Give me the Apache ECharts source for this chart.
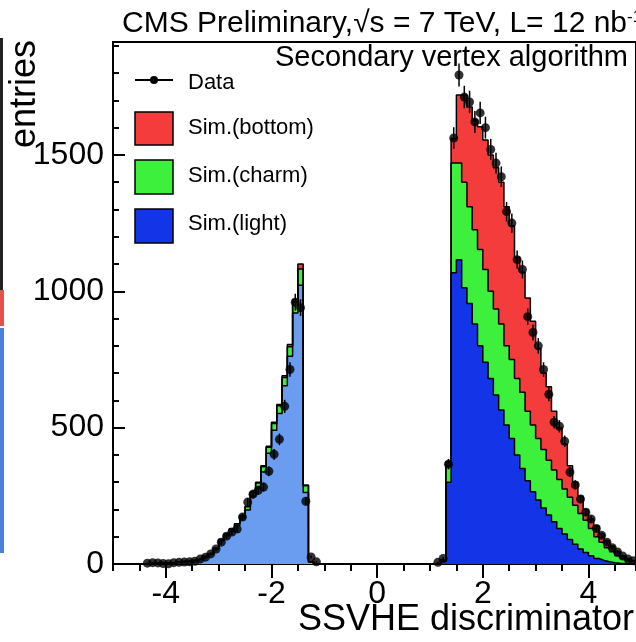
<!DOCTYPE html>
<html>
<head>
<meta charset="utf-8">
<script src="https://cdn.jsdelivr.net/npm/echarts@6/dist/echarts.min.js"></script>
<style>html,body{margin:0;padding:0;background:#fff}#c{width:636px;height:642px}</style>
</head>
<body>
<div id="c"></div>
<script>
// ---- data ----
const BIN_WIDTH = 0.1;
// negative-discriminator side: bins from -4.4 to -1.3 (left edges)
const negStart = -4.4;
const negLight  = [2,3,4,5,4,6,8,10,12,15,20,27,36,55,85,104,121,140,167,198,248,279,337,406,490,552,654,762,920,1022,262,8];
const negCharm  = [0,0,0,0,0,0,0,0,0,0,0,1,2,3,5,6,7,8,10,12,15,18,20,22,25,28,30,35,40,60,25,0];
const negBottom = [0,0,0,0,0,0,0,0,0,0,0,0,0,0,0,0,0,0,1,2,2,3,3,4,5,5,6,8,10,18,3,0];
// positive side: bins from 1.2 to 4.9 (left edges)
const posStart = 1.2;
const posLight  = [10,300,1068,1116,1013,955,880,800,740,680,620,565,510,460,400,350,305,265,235,205,180,155,130,110,90,72,55,42,30,20,13,8,5,3,2,1,1,0];
const posCharm  = [2,60,402,354,387,355,346,353,340,320,315,315,290,290,280,280,255,245,225,215,200,190,180,165,155,143,130,118,100,80,67,52,40,27,18,11,5,3];
const posBottom = [3,15,90,250,320,366,402,450,475,500,518,520,510,490,445,440,415,380,330,280,270,215,190,165,115,85,64,40,35,39,30,25,20,16,10,8,6,3];
// data counts
const dataNegStart = -4.4;
const dataNeg = [3,5,4,2,1,5,6,7,8,10,18,25,37,55,80,102,117,128,172,227,256,270,282,340,402,457,578,713,960,940,230,26,8];
const dataPosStart = 1.1;
const dataPos = [6,20,366,1562,1793,1712,1694,1621,1654,1600,1520,1470,1420,1292,1250,1116,1080,907,849,800,713,622,520,505,450,337,290,238,190,165,130,105,80,60,44,29,18,12,6];
// axis ticks / labels
const xTickLabels = [-4,-2,0,2,4];
const yTickStep = 500;
const legendNames = ['Data','Sim.(bottom)','Sim.(charm)','Sim.(light)'];

// ---- helpers ----
const FONT = 'Liberation Sans, Arial, Helvetica, sans-serif';
const COL_RED = '#f43c3c', COL_GREEN = '#3cf03c', COL_BLUE = '#1434e8', COL_LBLUE = '#6a9cf0';
function edge(start, i){ return Math.round((start + i*BIN_WIDTH)*100)/100; }
function sumArr(){ const arrs=[...arguments]; return arrs[0].map((_,i)=>arrs.reduce((s,a)=>s+a[i],0)); }
function stepPts(start, vals){
  const pts=[[edge(start,0),0]];
  vals.forEach((v,i)=>pts.push([edge(start,i),v]));
  pts.push([edge(start,vals.length),0]);
  return pts;
}
function stepSeries(name,start,vals,color){
  return {name, type:'line', step:'end', data:stepPts(start,vals), symbol:'none', silent:true,
    lineStyle:{color:'#000',width:1.5}, areaStyle:{color,opacity:1}, xAxisIndex:0, yAxisIndex:0, z:2};
}
function dataPts(start, vals){
  const out=[];
  vals.forEach((v,i)=>{ if(v>0) out.push([Math.round((start+(i+0.5)*BIN_WIDTH)*100)/100, v, Math.sqrt(v)]); });
  return out;
}
const allData = dataPts(dataNegStart,dataNeg).concat(dataPts(dataPosStart,dataPos));

const series = [
  stepSeries('negTotal',negStart,sumArr(negLight,negCharm,negBottom),COL_RED),
  stepSeries('negLC',negStart,sumArr(negLight,negCharm),COL_GREEN),
  stepSeries('negL',negStart,negLight,COL_LBLUE),
  stepSeries('posTotal',posStart,sumArr(posLight,posCharm,posBottom),COL_RED),
  stepSeries('posLC',posStart,sumArr(posLight,posCharm),COL_GREEN),
  stepSeries('posL',posStart,posLight,COL_BLUE),
  {type:'custom', data:allData, z:4, silent:true, xAxisIndex:0, yAxisIndex:0,
    renderItem:function(params,api){
      const x=api.value(0), v=api.value(1), e=api.value(2);
      const p1=api.coord([x,v-e]), p2=api.coord([x,v+e]);
      return {type:'line', shape:{x1:p1[0],y1:p1[1],x2:p2[0],y2:p2[1]}, style:{stroke:'#000',lineWidth:1.5}};
    }},
  {type:'scatter', data:allData.map(d=>[d[0],d[1]]), symbol:'circle', symbolSize:9, itemStyle:{color:'#000'}, z:5, silent:true, xAxisIndex:0, yAxisIndex:0}
];

const chart = echarts.init(document.getElementById('c'), null, {renderer:'canvas'});
const option = {
  animation:false,
  backgroundColor:'#fff',
  grid:{left:113,right:0,top:42,bottom:78,show:true,borderColor:'#000',borderWidth:2,backgroundColor:'transparent'},
  xAxis:[
    {type:'value',min:-5,max:4.9,interval:0.5,position:'bottom',
      axisLine:{show:true,onZero:false,lineStyle:{color:'#000',width:2}},
      axisTick:{show:true,inside:false,length:7,lineStyle:{color:'#000',width:2}},
      axisLabel:{show:false},splitLine:{show:false}},
    {type:'value',min:-5,max:4.9,position:'bottom',
      axisLine:{show:false,onZero:false},
      axisTick:{show:true,inside:false,length:14,customValues:xTickLabels,lineStyle:{color:'#000',width:2}},
      axisLabel:{show:true,customValues:xTickLabels,fontSize:32,color:'#000',margin:14,fontFamily:FONT,formatter:v=>String(v)},
      splitLine:{show:false}}
  ],
  yAxis:[
    {type:'value',min:0,max:1914,interval:yTickStep,position:'left',
      axisLine:{show:true,onZero:false,lineStyle:{color:'#000',width:2}},
      axisTick:{show:true,inside:true,length:12,lineStyle:{color:'#000',width:2}},
      axisLabel:{show:true,fontSize:32,color:'#000',margin:9,fontFamily:FONT,showMaxLabel:false,formatter:v=>String(v)},
      splitLine:{show:false}},
    {type:'value',min:0,max:1914,interval:100,position:'left',
      axisLine:{show:false,onZero:false},
      axisTick:{show:true,inside:true,length:6,lineStyle:{color:'#000',width:2}},
      axisLabel:{show:false},splitLine:{show:false}}
  ],
  series:series,
  graphic:[
    // edge of the neighbouring panel cut into the picture on the far left
    {type:'rect',shape:{x:0,y:38,width:3,height:252},style:{fill:'#222'}},
    {type:'rect',shape:{x:0,y:290,width:4,height:36},style:{fill:'#e8504a'}},
    {type:'rect',shape:{x:0,y:328,width:4,height:225},style:{fill:'#4a7fe0'}},
    {type:'text',x:122,y:24,style:{text:'{a|CMS Preliminary,√s = 7 TeV, L= 12 nb}{b|-1}',
      verticalAlign:'middle',align:'left',
      rich:{a:{fontSize:30,fontFamily:FONT,fill:'#000'},b:{fontSize:17,fontFamily:FONT,fill:'#000',verticalAlign:'top'}}}},
    {type:'text',x:628,y:58,style:{text:'Secondary vertex algorithm',fontSize:29,fontFamily:FONT,fill:'#000',align:'right',verticalAlign:'middle'}},
    {type:'text',x:25,y:40,rotation:Math.PI/2,style:{text:'entries',fontSize:36,fontFamily:FONT,fill:'#000',align:'right',verticalAlign:'middle'}},
    {type:'text',x:634,y:620,style:{text:'SSVHE discriminator',fontSize:36,fontFamily:FONT,fill:'#000',align:'right',verticalAlign:'middle'}},
    // legend
    {type:'line',shape:{x1:135,y1:80,x2:173,y2:80},style:{stroke:'#000',lineWidth:2}},
    {type:'circle',shape:{cx:154,cy:80,r:4},style:{fill:'#000'}},
    {type:'text',x:188,y:83,style:{text:legendNames[0],fontSize:22,fontFamily:FONT,fill:'#000',verticalAlign:'middle'}},
    {type:'rect',shape:{x:135,y:112,width:38,height:33},style:{fill:COL_RED,stroke:'#000',lineWidth:1.5}},
    {type:'text',x:188,y:128,style:{text:legendNames[1],fontSize:22,fontFamily:FONT,fill:'#000',verticalAlign:'middle'}},
    {type:'rect',shape:{x:135,y:160,width:38,height:34},style:{fill:COL_GREEN,stroke:'#000',lineWidth:1.5}},
    {type:'text',x:188,y:176,style:{text:legendNames[2],fontSize:22,fontFamily:FONT,fill:'#000',verticalAlign:'middle'}},
    {type:'rect',shape:{x:135,y:209,width:38,height:34},style:{fill:COL_BLUE,stroke:'#000',lineWidth:1.5}},
    {type:'text',x:188,y:224,style:{text:legendNames[3],fontSize:22,fontFamily:FONT,fill:'#000',verticalAlign:'middle'}}
  ]
};
chart.setOption(option);
</script>
</body>
</html>
